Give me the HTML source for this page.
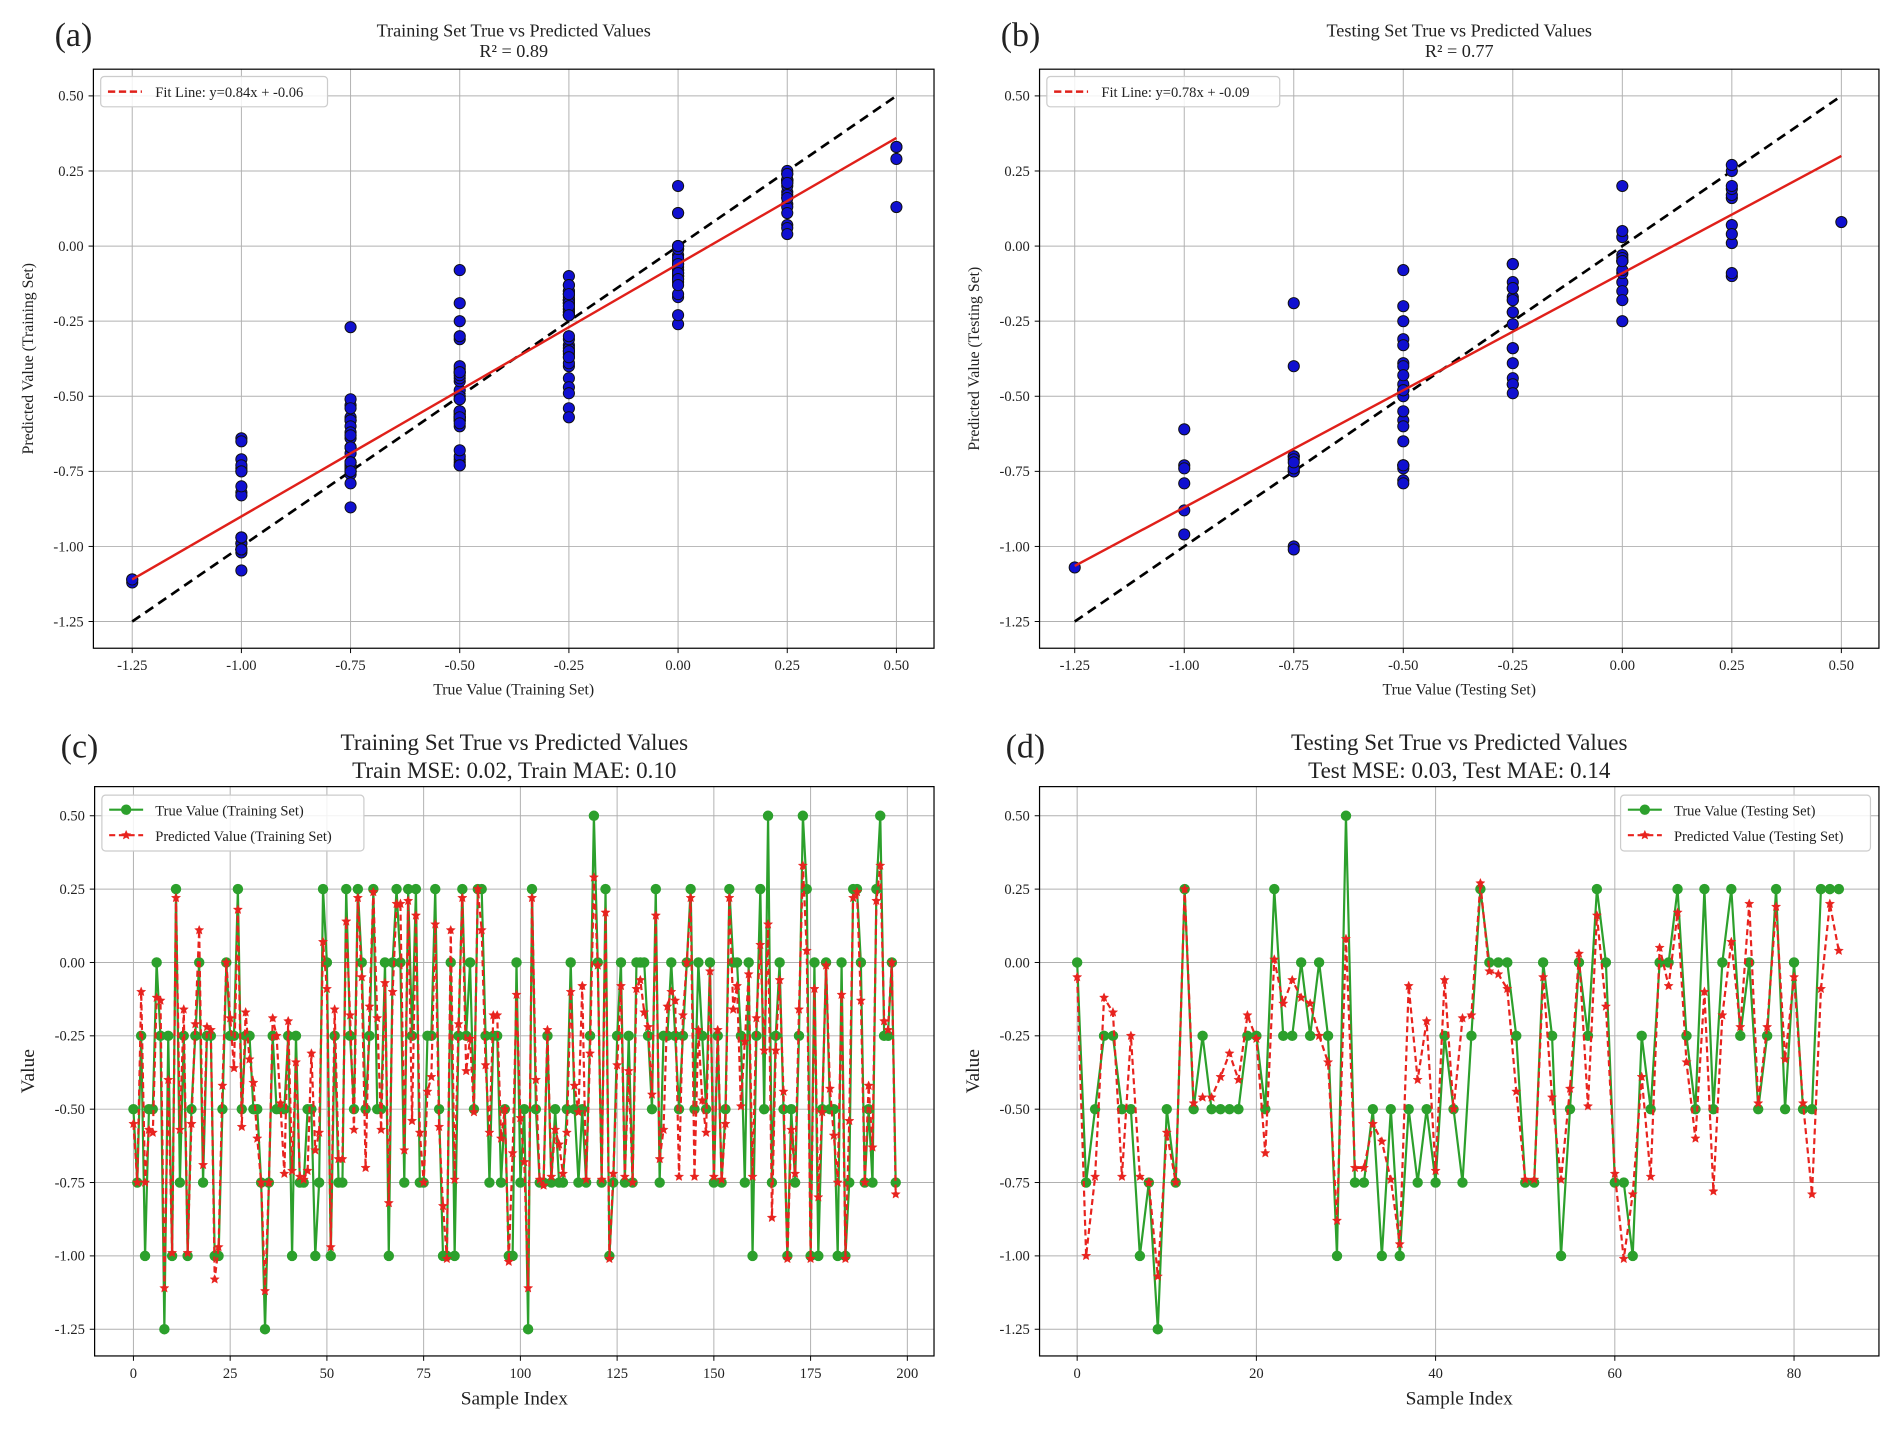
<!DOCTYPE html>
<html><head><meta charset="utf-8">
<style>
html,body{margin:0;padding:0;background:#fff;}
svg{display:block;font-family:"Liberation Serif",serif;}
</style></head>
<body>
<svg id="fig" width="1902" height="1430" viewBox="0 0 1568 1178" preserveAspectRatio="none" xmlns="http://www.w3.org/2000/svg"></svg>
<script>
// ---------- data ----------
const trainTrue = [-0.5,-0.75,-0.25,-1,-0.5,-0.5,0,-0.25,-1.25,-0.25,-1,0.25,-0.75,-0.25,-1,-0.5,-0.25,0,-0.75,-0.25,
-0.25,-1,-1,-0.5,0,-0.25,-0.25,0.25,-0.5,-0.25,-0.25,-0.5,-0.5,-0.75,-1.25,-0.75,-0.25,-0.5,-0.5,-0.5,
-0.25,-1,-0.25,-0.75,-0.75,-0.5,-0.5,-1,-0.75,0.25,0,-1,-0.25,-0.75,-0.75,0.25,-0.25,-0.5,0.25,0,
-0.5,-0.25,0.25,-0.5,-0.5,0,-1,0,0.25,0,-0.75,0.25,-0.25,0.25,-0.75,-0.75,-0.25,-0.25,0.25,-0.5,
-1,-1,0,-1,-0.25,0.25,-0.25,0,-0.5,0.25,0.25,-0.25,-0.75,-0.25,-0.25,-0.75,-0.5,-1,-1,0,
-0.75,-0.5,-1.25,0.25,-0.5,-0.75,-0.75,-0.25,-0.75,-0.5,-0.75,-0.75,-0.5,0,-0.5,-0.75,-0.5,-0.75,-0.25,0.5,
0,-0.75,0.25,-1,-0.75,-0.25,0,-0.75,-0.25,-0.75,0,0,0,-0.25,-0.5,0.25,-0.75,-0.25,-0.25,0,
-0.25,-0.5,-0.25,0,0.25,-0.5,0,-0.25,-0.5,0,-0.75,-0.25,-0.75,-0.5,0.25,0,0,-0.25,-0.75,0,
-1,-0.25,0.25,-0.5,0.5,-0.75,-0.25,0,-0.5,-1,-0.5,-0.75,-0.25,0.5,0.25,-1,0,-1,-0.5,0,
-0.5,-0.5,-1,0,-1,-0.75,0.25,0.25,0,-0.75,-0.5,-0.75,0.25,0.5,-0.25,-0.25,0,-0.75];
const trainPred = [-0.55,-0.75,-0.10,-0.75,-0.57,-0.58,-0.12,-0.13,-1.11,-0.40,-0.99,0.22,-0.57,-0.16,-0.99,-0.55,-0.21,0.11,-0.69,-0.22,
-0.23,-1.08,-0.97,-0.42,0.0,-0.19,-0.36,0.18,-0.56,-0.17,-0.33,-0.41,-0.60,-0.75,-1.12,-0.75,-0.19,-0.25,-0.48,-0.72,
-0.20,-0.71,-0.34,-0.73,-0.74,-0.71,-0.31,-0.64,-0.58,0.07,-0.09,-0.97,-0.16,-0.67,-0.67,0.14,-0.18,-0.57,0.22,-0.05,
-0.70,-0.15,0.24,-0.19,-0.57,-0.07,-0.82,-0.10,0.20,0.20,-0.64,0.21,-0.54,0.16,-0.58,-0.75,-0.44,-0.39,0.13,-0.56,
-0.83,-1.01,0.11,-0.74,-0.21,0.22,-0.37,-0.26,-0.51,0.25,0.11,-0.35,-0.58,-0.18,-0.18,-0.60,-0.50,-1.02,-0.65,-0.11,
-0.53,-0.68,-1.11,0.22,-0.40,-0.74,-0.76,-0.23,-0.73,-0.57,-0.62,-0.72,-0.58,-0.10,-0.42,-0.51,-0.08,-0.74,-0.31,0.29,
-0.01,-0.74,0.17,-1.01,-0.72,-0.35,-0.08,-0.73,-0.37,-0.75,-0.09,-0.06,-0.17,-0.22,-0.45,0.16,-0.67,-0.57,-0.15,-0.10,
-0.13,-0.73,-0.18,0.0,0.22,-0.73,-0.23,-0.47,-0.58,-0.03,-0.73,-0.23,-0.74,-0.55,0.22,-0.16,-0.08,-0.49,-0.27,-0.04,
-0.73,-0.19,0.06,-0.30,0.13,-0.87,-0.30,-0.06,-0.44,-1.01,-0.57,-0.72,-0.16,0.33,0.04,-1.01,-0.09,-0.80,-0.51,-0.01,
-0.43,-0.59,-0.75,-0.11,-1.01,-0.54,0.22,0.24,-0.13,-0.75,-0.42,-0.63,0.21,0.33,-0.20,-0.23,0.0,-0.79];
const testTrue = [0,-0.75,-0.5,-0.25,-0.25,-0.5,-0.5,-1,-0.75,-1.25,-0.5,-0.75,0.25,-0.5,-0.25,-0.5,-0.5,-0.5,-0.5,-0.25,
-0.25,-0.5,0.25,-0.25,-0.25,0,-0.25,0,-0.25,-1,0.5,-0.75,-0.75,-0.5,-1,-0.5,-1,-0.5,-0.75,-0.5,
-0.75,-0.25,-0.5,-0.75,-0.25,0.25,0,0,0,-0.25,-0.75,-0.75,0,-0.25,-1,-0.5,0,-0.25,0.25,0,
-0.75,-0.75,-1,-0.25,-0.5,0,0,0.25,-0.25,-0.5,0.25,-0.5,0,0.25,-0.25,0,-0.5,-0.25,0.25,-0.5,
0,-0.5,-0.5,0.25,0.25,0.25];
const testPred = [-0.05,-1.0,-0.73,-0.12,-0.17,-0.73,-0.25,-0.73,-0.75,-1.07,-0.58,-0.75,0.25,-0.48,-0.46,-0.46,-0.39,-0.31,-0.40,-0.18,
-0.26,-0.65,0.01,-0.14,-0.06,-0.12,-0.14,-0.25,-0.34,-0.88,0.08,-0.70,-0.70,-0.55,-0.61,-0.74,-0.96,-0.08,-0.40,-0.20,
-0.71,-0.06,-0.50,-0.19,-0.18,0.27,-0.03,-0.04,-0.09,-0.44,-0.74,-0.74,-0.05,-0.46,-0.74,-0.43,0.03,-0.49,0.16,-0.15,
-0.72,-1.01,-0.79,-0.39,-0.73,0.05,-0.08,0.17,-0.34,-0.60,-0.10,-0.78,-0.18,0.07,-0.22,0.20,-0.48,-0.22,0.19,-0.33,
-0.05,-0.48,-0.79,-0.09,0.20,0.04];
const scatterTicks = [-1.25,-1.0,-0.75,-0.5,-0.25,0.0,0.25,0.5];
const trainIdxTicks = [0,25,50,75,100,125,150,175,200];
const testIdxTicks = [0,20,40,60,80];
const fitTrain = [0.84,-0.06];
const fitTest = [0.78,-0.09];

const NS="http://www.w3.org/2000/svg";
const svg=document.getElementById('fig');
function mk(tag,attrs,parent){const e=document.createElementNS(NS,tag);for(const k in attrs)e.setAttribute(k,attrs[k]);(parent||svg).appendChild(e);return e;}
function txt(s,x,y,size,anchor,parent,extra){const t=mk('text',Object.assign({x:x,y:y,'font-size':size,'text-anchor':anchor||'middle',fill:'#222'},extra||{}),parent);t.textContent=s;return t;}
function lin(d0,d1,r0,r1){return v=>r0+(v-d0)*(r1-r0)/(d1-d0);}
function fmt(v){return v.toFixed(2);}

function frameAxes(g,box,xs,ys,xt,yt,xfmt){
  // grid
  xt.forEach(v=>{const l=mk('line',{x1:xs(v),x2:xs(v),y1:box.t,y2:box.b,stroke:'#b0b0b0','stroke-width':0.8},g);
    });
  yt.forEach(v=>{const l=mk('line',{x1:box.l,x2:box.r,y1:ys(v),y2:ys(v),stroke:'#b0b0b0','stroke-width':0.8},g);
    });
  xt.forEach(v=>{mk('line',{x1:xs(v),x2:xs(v),y1:box.b,y2:box.b+4,stroke:'#000','stroke-width':0.8},g);
    const t=txt(xfmt(v),xs(v),box.b+18,12,'middle',g);
    });
  yt.forEach(v=>{mk('line',{x1:box.l-4,x2:box.l,y1:ys(v),y2:ys(v),stroke:'#000','stroke-width':0.8},g);
    const t=txt(fmt(v),box.l-8,ys(v)+4,12,'end',g);
    });
}
function frameBorder(g,box){const r=mk('rect',{x:box.l,y:box.t,width:box.r-box.l,height:box.b-box.t,fill:'none',stroke:'#000','stroke-width':1},g);
  }
function star(cx,cy,r,g){let p=[];for(let i=0;i<10;i++){const a=-Math.PI/2+i*Math.PI/5;const rr=i%2?r*0.45:r;p.push((cx+rr*Math.cos(a)).toFixed(1)+','+(cy+rr*Math.sin(a)).toFixed(1));}
  return mk('polygon',{points:p.join(' '),fill:'#e8231e',stroke:'#e8231e','stroke-width':0.3},g);}

function scatterPanel(id,label,title,r2,box,xr,T,P,fit,xlab,ylab,legendW){
  const g=mk('g',{});
  const xs=lin(-1.25,0.5,xr[0],xr[1]), ys=lin(0.5,-1.25,79,512);
  frameAxes(g,box,xs,ys,scatterTicks,scatterTicks,fmt);
  // ideal line
  const d=mk('line',{x1:xs(-1.25),y1:ys(-1.25),x2:xs(0.5),y2:ys(0.5),stroke:'#000','stroke-width':2.2,'stroke-dasharray':'8,5'},g);
  
  T.forEach((t,i)=>{const c=mk('circle',{cx:xs(t),cy:ys(P[i]),r:4.6,fill:'#1010d0',stroke:'#111','stroke-width':0.8},g);
    });
  const f=mk('line',{x1:xs(-1.25),y1:ys(fit[0]*-1.25+fit[1]),x2:xs(0.5),y2:ys(fit[0]*0.5+fit[1]),stroke:'#e0201a','stroke-width':2},g);
  
  frameBorder(g,box);
  // legend
  const lg=mk('g',{},g);
  mk('rect',{x:box.l+6,y:63,width:legendW,height:25,rx:3,fill:'#fff','fill-opacity':0.85,stroke:'#ccc'},lg);
  mk('line',{x1:box.l+12,x2:box.l+40,y1:75.5,y2:75.5,stroke:'#e0201a','stroke-width':2,'stroke-dasharray':'6,3'},lg);
  const lt=txt('Fit Line: y='+fit[0].toFixed(2)+'x + '+fit[1].toFixed(2),box.l+51,80,12,'start',lg);
  
  const cx=(box.l+box.r)/2;
  let t=txt(title,cx,30,15,'middle',g);
  t=txt('R² = '+r2,cx,47,15,'middle',g);
  t=txt(label,box.l-32,38,28,'start',g);
  t=txt(xlab,cx,572,13,'middle',g);
  t=txt(ylab,0,0,13,'middle',g,{transform:'translate('+(box.l-50)+','+((box.t+box.b)/2)+') rotate(-90)'});
  
}

function seriesPanel(id,label,t1,t2,box,xr,xmax,T,P,ticks,legX,legW,leg1,leg2){
  const g=mk('g',{});
  const xs=lin(0,xmax,xr[0],xr[1]), ys=lin(0.5,-1.25,672,1095);
  frameAxes(g,box,xs,ys,ticks,scatterTicks,v=>String(v));
  const tp=T.map((v,i)=>xs(i).toFixed(1)+','+ys(v).toFixed(1)).join(' ');
  const pl=mk('polyline',{points:tp,fill:'none',stroke:'#2ca02c','stroke-width':1.8},g);
  
  T.forEach((v,i)=>{const c=mk('circle',{cx:xs(i),cy:ys(v),r:4.3,fill:'#2ca02c'},g);
    });
  const pp=P.map((v,i)=>xs(i).toFixed(1)+','+ys(v).toFixed(1)).join(' ');
  const pl2=mk('polyline',{points:pp,fill:'none',stroke:'#e8231e','stroke-width':1.8,'stroke-dasharray':'5,3'},g);
  
  P.forEach((v,i)=>{const s=star(xs(i),ys(v),4,g);
    });
  frameBorder(g,box);
  const lg=mk('g',{},g);
  mk('rect',{x:legX,y:655,width:legW,height:46,rx:3,fill:'#fff','fill-opacity':0.85,stroke:'#ccc'},lg);
  mk('line',{x1:legX+6,x2:legX+34,y1:667,y2:667,stroke:'#2ca02c','stroke-width':1.8},lg);
  mk('circle',{cx:legX+20,cy:667,r:4.3,fill:'#2ca02c'},lg);
  mk('line',{x1:legX+6,x2:legX+34,y1:688,y2:688,stroke:'#e8231e','stroke-width':1.8,'stroke-dasharray':'5,3'},lg);
  star(legX+20,688,4,lg);
  let t=txt(leg1,legX+44,672,12,'start',lg);
  t=txt(leg2,legX+44,693,12,'start',lg);
  const cx=(box.l+box.r)/2;
  t=txt(t1,cx,618,19,'middle',g);
  t=txt(t2,cx,641,19,'middle',g);
  t=txt(label,box.l-28,624,28,'start',g);
  t=txt('Sample Index',cx,1157,16,'middle',g);
  t=txt('Value',0,0,16,'middle',g,{transform:'translate('+(box.l-50)+','+((box.t+box.b)/2)+') rotate(-90)'});
  
}

scatterPanel('train-scatter-panel','(a)','Training Set True vs Predicted Values','0.89',{l:77,r:770,t:57,b:534},[109,739],trainTrue,trainPred,fitTrain,'True Value (Training Set)','Predicted Value (Training Set)',187);
scatterPanel('test-scatter-panel','(b)','Testing Set True vs Predicted Values','0.77',{l:857,r:1549,t:57,b:534},[886,1518],testTrue,testPred,fitTest,'True Value (Testing Set)','Predicted Value (Testing Set)',192);
seriesPanel('train-series-panel','(c)','Training Set True vs Predicted Values','Train MSE: 0.02, Train MAE: 0.10',{l:78,r:770,t:648,b:1117},[110,748],200,trainTrue,trainPred,trainIdxTicks,84,216,'True Value (Training Set)','Predicted Value (Training Set)');
seriesPanel('test-series-panel','(d)','Testing Set True vs Predicted Values','Test MSE: 0.03, Test MAE: 0.14',{l:857,r:1549,t:648,b:1117},[888,1479],80,testTrue,testPred,testIdxTicks,1336,206,'True Value (Testing Set)','Predicted Value (Testing Set)');
</script>
</body></html>
